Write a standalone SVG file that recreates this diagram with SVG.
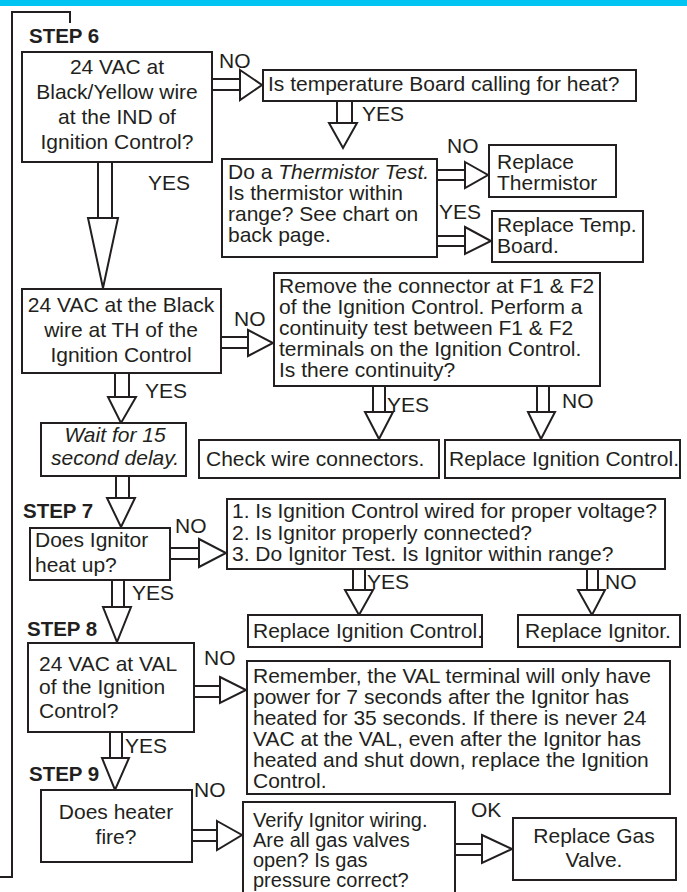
<svg xmlns="http://www.w3.org/2000/svg" width="687" height="892" viewBox="0 0 687 892">
<style>
text{font-family:"Liberation Sans",Arial,sans-serif;font-size:21px;fill:#231f20}
.c{text-anchor:middle}
.st{font-weight:bold;font-size:20.5px}
.it{font-style:italic}
.sm{font-size:20px}
.b{fill:#fff;stroke:#231f20;stroke-width:2}
.a rect,.a polygon{fill:#fff;stroke:#231f20;stroke-width:2;stroke-linejoin:miter}
.f{fill:none;stroke:#231f20;stroke-width:2}
</style>
<rect x="0" y="0" width="687" height="6" fill="#00c5f2"/>
<path class="f" d="M0 877H12V12H70V23"/>
<g id="labels">
<text class="st" x="29" y="43">STEP 6</text>
<text class="st" x="23" y="518">STEP 7</text>
<text class="st" x="27" y="636">STEP 8</text>
<text class="st" x="29" y="781">STEP 9</text>
<text x="219" y="68">NO</text>
<text x="148" y="190">YES</text>
<text x="362" y="121">YES</text>
<text x="447" y="153">NO</text>
<text x="439" y="219">YES</text>
<text x="234" y="326">NO</text>
<text x="387" y="412">YES</text>
<text x="562" y="408">NO</text>
<text x="145" y="398">YES</text>
<text x="175" y="533">NO</text>
<text x="367" y="589">YES</text>
<text x="605" y="589">NO</text>
<text x="132" y="600">YES</text>
<text x="204" y="665">NO</text>
<text x="125" y="753">YES</text>
<text x="194" y="797">NO</text>
<text x="471" y="817">OK</text>
</g>
<g id="connectors" class="a">
<rect x="212" y="79" width="28" height="11"/><polygon points="240,70 262,85 240,100"/>
<rect x="337" y="101" width="15" height="22"/><polygon points="329,123 357,123 343,148"/>
<rect x="437" y="170" width="28" height="10"/><polygon points="465,162 488,175 465,188"/>
<rect x="437" y="236" width="28" height="10"/><polygon points="465,227 491,241 465,254"/>
<rect x="98" y="162" width="14" height="56"/><polygon points="88,218 118,218 103,288"/>
<rect x="221" y="337" width="27" height="11"/><polygon points="248,330 273,343 248,356"/>
<rect x="373" y="386" width="12" height="26"/><polygon points="365,412 393,412 379,439"/>
<rect x="537" y="386" width="12" height="26"/><polygon points="528,412 555,412 541,439"/>
<rect x="115" y="373" width="14" height="24"/><polygon points="108,397 136,397 121,423"/>
<rect x="116" y="476" width="13" height="22"/><polygon points="107,498 135,498 121,527"/>
<rect x="170" y="548" width="29" height="11"/><polygon points="199,539 226,553 199,567"/>
<rect x="353" y="569" width="12" height="21"/><polygon points="345,590 373,590 359,615"/>
<rect x="587" y="569" width="11" height="21"/><polygon points="578,590 605,590 592,615"/>
<rect x="112" y="580" width="12" height="27"/><polygon points="103,607 131,607 117,642"/>
<rect x="194" y="686" width="26" height="11"/><polygon points="220,677 246,690 220,703"/>
<rect x="110" y="732" width="12" height="26"/><polygon points="102,758 129,758 115,790"/>
<rect x="192" y="830" width="25" height="11"/><polygon points="217,821 242,835 217,850"/>
<rect x="455" y="844" width="27" height="11"/><polygon points="482,835 512,849 482,863"/>
</g>
<g id="n1"><rect class="b" x="22" y="52" width="190" height="110"/>
<text class="c" x="117" y="74">24 VAC at</text><text class="c" x="117" y="99">Black/Yellow wire</text><text class="c" x="117" y="124">at the IND of</text><text class="c" x="117" y="149">Ignition Control?</text></g>
<g id="n2"><rect class="b" x="263" y="70" width="373" height="31"/>
<text x="268" y="91">Is temperature Board calling for heat?</text></g>
<g id="n3"><rect class="b" x="222" y="159" width="215" height="98"/>
<text x="228" y="179">Do a <tspan class="it">Thermistor Test.</tspan></text><text x="228" y="200">Is thermistor within</text><text x="228" y="221">range? See chart on</text><text x="228" y="242">back page.</text></g>
<g id="n4"><rect class="b" x="489" y="145" width="127" height="52"/>
<text x="497" y="169">Replace</text><text x="497" y="190">Thermistor</text></g>
<g id="n5"><rect class="b" x="492" y="211" width="151" height="51"/>
<text x="497" y="232">Replace Temp.</text><text x="497" y="253">Board.</text></g>
<g id="n6"><rect class="b" x="22" y="289" width="199" height="84"/>
<text class="c" x="121" y="312">24 VAC at the Black</text><text class="c" x="121" y="337">wire at TH of the</text><text class="c" x="121" y="362">Ignition Control</text></g>
<g id="n7"><rect class="b" x="274" y="273" width="326" height="113"/>
<text x="279" y="293">Remove the connector at F1 &amp; F2</text><text x="279" y="314">of the Ignition Control. Perform a</text><text x="279" y="335">continuity test between F1 &amp; F2</text><text x="279" y="356">terminals on the Ignition Control.</text><text x="279" y="377">Is there continuity?</text></g>
<g id="n8"><rect class="b" x="199" y="440" width="240" height="38"/>
<text x="206" y="466">Check wire connectors.</text></g>
<g id="n9"><rect class="b" x="445" y="440" width="235" height="38"/>
<text x="449" y="466">Replace Ignition Control.</text></g>
<g id="n10"><rect class="b" x="41" y="423" width="145" height="53"/>
<text class="c it" x="115" y="442">Wait for 15</text><text class="c it" x="115" y="465">second delay.</text></g>
<g id="n11"><rect class="b" x="30" y="528" width="140" height="52"/>
<text x="35" y="547">Does Ignitor</text><text x="35" y="572">heat up?</text></g>
<g id="n12"><rect class="b" x="227" y="499" width="438" height="70"/>
<text x="232" y="518">1. Is Ignition Control wired for proper voltage?</text><text x="232" y="540">2. Is Ignitor properly connected?</text><text x="232" y="561">3. Do Ignitor Test. Is Ignitor within range?</text></g>
<g id="n13"><rect class="b" x="248" y="615" width="234" height="32"/>
<text x="253" y="638">Replace Ignition Control.</text></g>
<g id="n14"><rect class="b" x="518" y="615" width="162" height="32"/>
<text x="525" y="638">Replace Ignitor.</text></g>
<g id="n15"><rect class="b" x="28" y="643" width="166" height="89"/>
<text x="39" y="671">24 VAC at VAL</text><text x="39" y="694">of the Ignition</text><text x="39" y="718">Control?</text></g>
<g id="n16"><rect class="b" x="247" y="661" width="423" height="133"/>
<text x="253" y="683">Remember, the VAL terminal will only have</text><text x="253" y="704">power for 7 seconds after the Ignitor has</text><text x="253" y="725">heated for 35 seconds. If there is never 24</text><text x="253" y="746">VAC at the VAL, even after the Ignitor has</text><text x="253" y="767">heated and shut down, replace the Ignition</text><text x="253" y="788">Control.</text></g>
<g id="n17"><rect class="b" x="41" y="790" width="151" height="72"/>
<text class="c" x="116" y="819">Does heater</text><text class="c" x="116" y="844">fire?</text></g>
<g id="n18"><rect class="b" x="243" y="802" width="212" height="100"/>
<text class="sm" x="253" y="827">Verify Ignitor wiring.</text><text class="sm" x="253" y="847">Are all gas valves</text><text class="sm" x="253" y="867">open? Is gas</text><text class="sm" x="253" y="887">pressure correct?</text></g>
<g id="n19"><rect class="b" x="513" y="818" width="163" height="62"/>
<text class="c" x="594" y="843">Replace Gas</text><text class="c" x="594" y="867">Valve.</text></g>
</svg>
